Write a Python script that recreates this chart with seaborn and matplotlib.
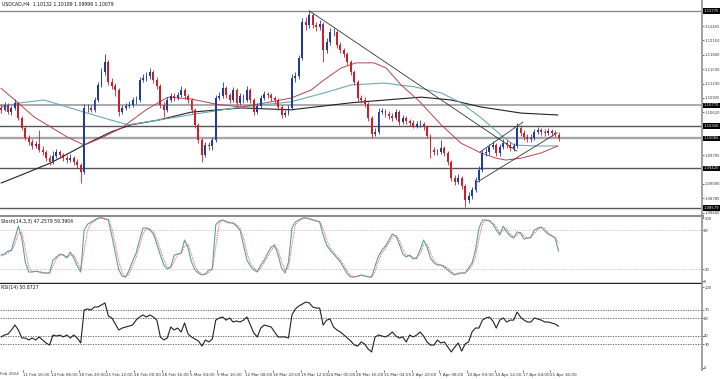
import matplotlib
matplotlib.use("Agg")
import matplotlib.pyplot as plt
import matplotlib.transforms as mtransforms
import numpy as np
import pandas as pd
import seaborn as sns

# ---------------- data (USDCAD H4) ----------------
opens = [1.1071,1.1067,1.1077,1.1062,1.1071,1.1082,1.1050,1.1028,1.1007,1.0998,
 1.0990,1.0994,1.0981,1.0977,1.0964,1.0956,1.0969,1.0977,1.0971,1.0964,
 1.0960,1.0964,1.0956,1.0949,1.0934,1.1071,1.1071,1.1067,1.1088,1.1120,
 1.1148,1.1169,1.1126,1.1118,1.1109,1.1062,1.1071,1.1075,1.1077,1.1088,
 1.1088,1.1131,1.1135,1.1139,1.1148,1.1131,1.1118,1.1077,1.1067,1.1088,
 1.1096,1.1092,1.1099,1.1109,1.1096,1.1088,1.1067,1.1035,1.1003,1.0971,
 1.0992,1.0990,1.1003,1.1092,1.1096,1.1113,1.1099,1.1088,1.1109,1.1082,
 1.1096,1.1088,1.1109,1.1088,1.1062,1.1075,1.1092,1.1101,1.1099,1.1092,
 1.1088,1.1073,1.1056,1.1060,1.1071,1.1135,1.1139,1.1177,1.1254,1.1248,
 1.1269,1.1248,1.1243,1.1250,1.1194,1.1211,1.1233,1.1233,1.1205,1.1194,
 1.1186,1.1169,1.1148,1.1126,1.1092,1.1088,1.1079,1.1050,1.1016,1.1020,
 1.1062,1.1065,1.1058,1.1054,1.1050,1.1062,1.1041,1.1050,1.1043,1.1039,
 1.1033,1.1037,1.1037,1.1030,1.1011,1.0981,1.0977,1.0977,1.0986,1.0975,
 1.0956,1.0922,1.0913,1.0922,1.0905,1.0875,1.0883,1.0896,1.0917,1.0939,
 1.0975,1.0977,1.0988,1.0992,1.0975,1.0988,1.0996,1.0992,1.0986,1.0990,
 1.1028,1.1018,1.1009,1.1005,1.1007,1.1020,1.1024,1.1020,1.1018,1.1022,
 1.1018,1.10132]
highs = [1.1079,1.1084,1.1082,1.1075,1.1090,1.1084,1.1054,1.1033,1.1013,1.1005,
 1.1001,1.1024,1.0990,1.0981,1.0971,1.0979,1.0984,1.0981,1.0975,1.0971,
 1.0973,1.0969,1.0962,1.0954,1.1079,1.1079,1.1077,1.1094,1.1126,1.1156,
 1.1186,1.1173,1.1135,1.1124,1.1113,1.1077,1.1082,1.1086,1.1094,1.1096,
 1.1137,1.1143,1.1148,1.1156,1.1152,1.1137,1.1122,1.1084,1.1094,1.1103,
 1.1103,1.1105,1.1118,1.1113,1.1101,1.1092,1.1071,1.1039,1.1007,1.0998,
 1.0998,1.1009,1.1099,1.1105,1.1126,1.1118,1.1103,1.1116,1.1113,1.1103,
 1.1101,1.1118,1.1113,1.1092,1.1082,1.1099,1.1107,1.1105,1.1103,1.1096,
 1.1092,1.1077,1.1067,1.1077,1.1143,1.1148,1.1184,1.1263,1.1265,1.1278,
 1.1273,1.1254,1.1258,1.1254,1.1220,1.1241,1.1241,1.1237,1.1211,1.1199,
 1.1190,1.1173,1.1152,1.1131,1.1099,1.1094,1.1084,1.1054,1.1028,1.1071,
 1.1071,1.1069,1.1065,1.1060,1.1069,1.1067,1.1056,1.1054,1.1047,1.1045,
 1.1043,1.1045,1.1041,1.1035,1.1016,1.0988,1.0984,1.1003,1.0990,1.0979,
 1.0960,1.0928,1.0930,1.0926,1.0909,1.0892,1.0903,1.0924,1.0947,1.0981,
 1.0986,1.0994,1.1001,1.0996,1.0994,1.1005,1.1003,1.0998,1.0996,1.1039,
 1.1035,1.1024,1.1016,1.1016,1.1026,1.1030,1.1028,1.1026,1.1028,1.1026,
 1.1024,1.10189]
lows = [1.1060,1.1065,1.1058,1.1056,1.1067,1.1045,1.1024,1.1003,1.0992,1.0984,
 1.0986,1.0977,1.0971,1.0958,1.0949,1.0952,1.0964,1.0964,1.0958,1.0954,
 1.0956,1.0949,1.0943,1.0911,1.0930,1.1062,1.1062,1.1062,1.1084,1.1116,
 1.1141,1.1120,1.1111,1.1096,1.1054,1.1058,1.1067,1.1071,1.1073,1.1079,
 1.1084,1.1126,1.1128,1.1133,1.1124,1.1111,1.1071,1.1052,1.1062,1.1084,
 1.1086,1.1088,1.1094,1.1090,1.1082,1.1060,1.1028,1.0996,1.0956,1.0967,
 1.0981,1.0981,1.0998,1.1088,1.1092,1.1092,1.1082,1.1084,1.1075,1.1077,
 1.1082,1.1084,1.1082,1.1056,1.1058,1.1071,1.1088,1.1092,1.1086,1.1082,
 1.1067,1.1050,1.1052,1.1056,1.1067,1.1126,1.1133,1.1173,1.1237,1.1241,
 1.1241,1.1235,1.1237,1.1169,1.1188,1.1205,1.1224,1.1199,1.1188,1.1180,
 1.1162,1.1141,1.1120,1.1086,1.1082,1.1073,1.1043,1.1007,1.1011,1.1016,
 1.1058,1.1052,1.1047,1.1043,1.1045,1.1035,1.1037,1.1037,1.1033,1.1028,
 1.1028,1.1030,1.1024,1.1007,1.0964,1.0971,1.0971,1.0973,1.0969,1.0949,
 1.0915,1.0907,1.0909,1.0898,1.0860,1.0869,1.0877,1.0892,1.0913,1.0934,
 1.0969,1.0971,1.0984,1.0969,1.0969,1.0984,1.0986,1.0979,1.0979,1.0986,
 1.1011,1.1003,1.0998,1.0998,1.1003,1.1016,1.1013,1.1011,1.1013,1.1011,
 1.1009,1.09999]
closes = [1.1067,1.1077,1.1062,1.1071,1.1082,1.1050,1.1028,1.1007,1.0998,1.0990,
 1.0994,1.0981,1.0977,1.0964,1.0956,1.0969,1.0977,1.0971,1.0964,1.0960,
 1.0964,1.0956,1.0949,1.0934,1.1071,1.1071,1.1067,1.1088,1.1120,1.1148,
 1.1169,1.1126,1.1118,1.1109,1.1062,1.1071,1.1075,1.1077,1.1088,1.1088,
 1.1131,1.1135,1.1139,1.1148,1.1131,1.1118,1.1077,1.1067,1.1088,1.1096,
 1.1092,1.1099,1.1109,1.1096,1.1088,1.1067,1.1035,1.1003,1.0971,1.0992,
 1.0990,1.1003,1.1092,1.1096,1.1113,1.1099,1.1088,1.1109,1.1082,1.1096,
 1.1088,1.1109,1.1088,1.1062,1.1075,1.1092,1.1101,1.1099,1.1092,1.1088,
 1.1073,1.1056,1.1060,1.1071,1.1135,1.1139,1.1177,1.1254,1.1248,1.1269,
 1.1248,1.1243,1.1250,1.1194,1.1211,1.1233,1.1233,1.1205,1.1194,1.1186,
 1.1169,1.1148,1.1126,1.1092,1.1088,1.1079,1.1050,1.1016,1.1020,1.1062,
 1.1065,1.1058,1.1054,1.1050,1.1062,1.1041,1.1050,1.1043,1.1039,1.1033,
 1.1037,1.1037,1.1030,1.1011,1.0981,1.0977,1.0977,1.0986,1.0975,1.0956,
 1.0922,1.0913,1.0922,1.0905,1.0875,1.0883,1.0896,1.0917,1.0939,1.0975,
 1.0977,1.0988,1.0992,1.0975,1.0988,1.0996,1.0992,1.0986,1.0990,1.1028,
 1.1018,1.1009,1.1005,1.1007,1.1020,1.1024,1.1020,1.1018,1.1022,1.1018,
 1.1016,1.10079]

stoch_main = [41.5,43.0,47.7,49.0,67.7,86.0,67.7,30.8,15.4,15.4,
 17.0,15.4,13.8,13.8,13.8,33.8,38.5,43.0,41.5,37.0,
 46.0,37.0,24.6,15.4,80.0,89.0,92.0,95.4,98.5,99.0,
 97.0,95.4,70.8,44.6,18.5,9.2,7.7,18.5,32.3,44.6,
 64.6,83.0,83.0,80.0,73.8,58.5,41.5,26.2,20.0,23.0,
 41.5,43.0,44.6,64.6,52.3,30.8,18.5,13.8,10.8,12.3,
 18.5,20.0,88.0,93.8,95.4,92.3,90.8,90.8,86.0,80.0,
 57.0,33.8,24.6,18.5,15.4,26.2,33.8,44.6,53.8,57.0,
 41.5,21.5,13.8,30.8,83.0,92.3,95.4,98.5,98.5,97.0,
 95.4,93.8,92.3,72.3,57.0,49.2,43.0,37.0,30.8,21.5,
 12.3,7.7,7.7,9.2,10.8,9.2,7.7,7.7,24.6,40.0,
 49.2,55.4,64.6,73.8,70.8,58.5,43.0,38.5,41.5,35.4,
 37.0,49.2,64.6,53.8,37.0,29.2,26.2,26.2,23.0,18.5,
 13.8,10.8,13.8,13.8,13.8,21.5,29.2,49.2,83.0,95.4,
 95.4,93.8,89.0,80.0,72.3,86.0,77.0,70.8,67.7,77.0,
 75.4,66.0,67.7,69.0,80.0,83.0,84.6,78.5,73.8,70.8,
 67.7,47.26]
stoch_signal = [40,42,45,48,58,75,77,50,23,16,
 16,16,15,14,14,24,36,41,42,39,
 41,42,31,20,48,80,90,94,97,98.5,
 98,96,83,58,32,14,8,13,25,38,
 55,74,83,82,77,66,50,34,23,22,
 32,42,44,55,58,42,25,16,12,12,
 15,19,54,91,95,94,92,91,88,83,
 68,45,29,22,17,21,30,39,49,55,
 49,32,18,22,57,88,94,97,98.5,98,
 96,95,93,82,65,53,46,40,34,26,
 17,10,8,8.5,10,10,8.5,7.7,16,32,
 45,52,60,69,72,65,51,41,40,38,
 36,43,57,59,45,33,28,26,25,21,
 16,12,12,14,14,18,25,39,66,89,
 95,95,91,85,76,79,82,74,69,72,
 76,71,67,68,75,81,84,82,76,72,
 69,59.39]
rsi = [38.4,40.7,41.9,46.5,52.3,46.5,37.2,37.2,34.9,37.2,
 34.9,38.4,34.9,31.4,29.0,40.7,39.5,40.7,38.4,40.7,
 37.2,40.7,37.2,31.4,69.8,71.0,69.8,73.3,73.3,75.6,
 78.0,62.8,60.5,53.5,46.5,48.8,50.0,51.2,52.3,58.0,
 61.6,64.0,61.6,64.0,61.6,58.0,38.4,34.9,37.2,50.0,
 46.5,48.8,44.2,54.7,41.9,38.4,36.0,33.7,27.9,34.9,
 32.6,36.0,58.0,60.5,61.6,58.0,60.5,55.8,57.0,55.8,
 58.0,61.6,52.3,43.0,38.4,48.8,52.3,51.2,50.0,44.2,
 38.4,38.4,38.4,37.2,64.0,71.0,74.4,76.7,79.0,78.0,
 73.3,72.0,72.0,52.3,58.0,59.3,50.0,46.5,44.2,40.7,
 37.2,33.7,29.0,27.9,32.6,30.2,24.4,21.0,38.4,40.7,
 39.5,38.4,40.7,44.2,39.5,37.2,38.4,32.6,40.7,38.4,
 40.7,44.2,39.5,32.6,29.0,29.0,34.9,31.4,32.6,26.7,
 21.0,26.7,31.4,22.0,30.2,32.6,44.2,48.8,48.8,58.0,
 60.5,61.6,57.0,48.8,58.0,60.5,55.8,58.0,58.0,67.4,
 61.6,58.0,55.8,55.8,60.5,59.3,58.0,55.8,55.8,54.7,
 53.5,50.87]

# moving averages, read at a few bars
ma_red_bar = [0,4.9,9.5,14.4,19.1,24.0,28.9,34.7,41.9,48.2,54.9,62.1,69.3,76.5,83.7,
              89.5,93.3,98.2,102.5,107.7,111.2,115.5,120.4,127.1,132.8,138.6,142.9,145.8,150.2,155.9,160.8]
ma_red = [1.1113,1.1082,1.1052,1.1030,1.1009,1.0992,1.1007,1.1028,1.1067,1.1094,1.1090,1.1079,1.1073,1.1082,1.1092,
          1.1109,1.1131,1.1156,1.1167,1.1167,1.1156,1.1120,1.1088,1.1035,1.0996,1.0975,1.0964,1.0960,1.0964,1.0975,1.0990]
ma_teal_bar = [0,5.8,12.4,24.0,31.8,36.7,45.3,57.8,69.3,83.7,93.3,101.1,110.6,119.3,127.1,132.8,138.6,144.4,148.1,154.5,160.8]
ma_teal = [1.1073,1.1082,1.1088,1.1062,1.1045,1.1035,1.1045,1.1060,1.1073,1.1084,1.1103,1.1120,1.1124,1.1116,1.1103,
           1.1082,1.1050,1.1013,1.0992,1.0990,1.0990]
ma_black_bar = [0,5.8,14.4,24.0,31.8,37.5,45.3,54.9,69.3,83.7,101.1,121.3,129.9,138.6,150.2,160.8]
ma_black = [1.0911,1.0928,1.0954,1.0992,1.1020,1.1035,1.1045,1.1062,1.1071,1.1067,1.1082,1.1094,1.1088,1.1073,1.1060,1.1056]

# drawn objects
trend_down_bar = [89, 149]
trend_down_price = [1.1278, 1.0979]
channel_up_bar = [138.3, 150.7]
channel_up_price = [1.0977, 1.1041]
channel_low_bar = [137.5, 160.6]
channel_low_price = [1.0913, 1.1018]

level_prices = [1.12775, 1.10770, 1.10326, 1.10066, 1.09420, 1.08579]
level_labels = ["1.12775", "1.10770", "1.10326", "1.10066", "1.09420", "1.08579"]
price_ticks = [1.12455, 1.12150, 1.11840, 1.11530, 1.11230, 1.10925, 1.10620, 1.09705, 1.09090, 1.08785, 1.08480]
price_tick_labels = ["1.12455", "1.12150", "1.11840", "1.11530", "1.11230", "1.10925", "1.10620",
                     "1.09705", "1.09090", "1.08785", "1.08480"]
time_labels = ["11 Feb 16:00", "14 Feb 08:00", "18 Feb 20:00", "21 Feb 12:00", "26 Feb 00:00",
               "28 Feb 16:00", "5 Mar 04:00", "9 Mar 16:00", "12 Mar 08:00", "16 Mar 20:00",
               "19 Mar 12:00", "24 Mar 00:00", "26 Mar 16:00", "31 Mar 04:00", "2 Apr 20:00",
               "7 Apr 08:00", "10 Apr 00:00", "14 Apr 12:00", "17 Apr 04:00", "21 Apr 16:00"]
first_label = "Feb 2014"
header = "USDCAD,H4  1.10132 1.10189 1.09999 1.10079"
stoch_title = "Stoch(14,3,3) 47.2579 59.3904"
rsi_title = "RSI(14) 50.8727"
stoch_levels = [80, 20]
rsi_levels = [70, 60, 40, 30]

# ---------------- drawing ----------------
sns.set_theme(style="white")
plt.rcParams["font.family"] = ["Liberation Sans Narrow", "DejaVu Sans"]

UP = "#1f3c9a"
DOWN = "#cc1f2a"
W, H = 720, 379
FS = 3.3     # titles
FSY = 2.7    # right-hand axis labels
FSX = 3.0    # time labels

fig = plt.figure(figsize=(7.2, 3.79), dpi=100)
fig.patch.set_facecolor("white")
axw = 702 / W
ax = fig.add_axes([0, 1 - 216 / H, axw, 215 / H])
axs = fig.add_axes([0, 1 - 283 / H, axw, 66 / H])
axr = fig.add_axes([0, 1 - 370 / H, axw, 86 / H])
XL = (-0.3, 202.4)

n = len(closes)
x = np.arange(n)
o = np.array(opens); c = np.array(closes); h = np.array(highs); l = np.array(lows)
col = np.where(c >= o, UP, DOWN)

# horizontal levels
lvl_style = {1.12775: ("#8a8a8a", 1.0), 1.10770: ("#9c9c9c", 1.2), 1.10326: ("#555555", 1.0),
             1.10066: ("#a6a6a6", 1.7), 1.09420: ("#555555", 1.0), 1.08579: ("#555555", 1.0)}
for lv in level_prices:
    cc, lw = lvl_style[lv]
    ax.axhline(lv, color=cc, lw=lw, zorder=1)

# moving averages
sns.lineplot(x=ma_black_bar, y=ma_black, ax=ax, color="#222222", linewidth=0.8, sort=False, zorder=2)
sns.lineplot(x=ma_teal_bar, y=ma_teal, ax=ax, color="#6aaab8", linewidth=0.8, sort=False, zorder=2)
sns.lineplot(x=ma_red_bar, y=ma_red, ax=ax, color="#b8434c", linewidth=0.7, sort=False, zorder=2)

# trend lines
for bx, py in [(trend_down_bar, trend_down_price), (channel_up_bar, channel_up_price),
               (channel_low_bar, channel_low_price)]:
    ax.plot(bx, py, color="#333333", lw=0.6, zorder=2)

# candles
ax.vlines(x, l, h, colors=col, linewidth=0.6, zorder=3)
ax.bar(x, np.maximum(np.abs(c - o), 0.00005), bottom=np.minimum(o, c), width=0.55,
       color=col, linewidth=0, zorder=4)

ax.set_xlim(*XL)
ax.set_ylim(1.08408, 1.12988)

# stochastic
for lv in stoch_levels:
    axs.axhline(lv, color="#b0b0b0", lw=0.6, ls=(0, (1, 1.5)))
sns.lineplot(x=x, y=stoch_main, ax=axs, color="#5f9ea0", linewidth=0.8)
sns.lineplot(x=x, y=stoch_signal, ax=axs, color="#e05a5a", linewidth=0.7, linestyle=(0, (1, 1)))
axs.set_xlim(*XL)
axs.set_ylim(-1.5, 100)

# RSI
for lv in rsi_levels:
    axr.axhline(lv, color="#555555", lw=0.6, ls=(0, (1.5, 1.5)))
sns.lineplot(x=x, y=rsi, ax=axr, color="#222222", linewidth=0.8)
axr.set_xlim(*XL)
axr.set_ylim(0, 100)

for a in (ax, axs, axr):
    a.set_facecolor("white")
    a.set_xlabel("")
    a.set_ylabel("")
    for s in a.spines.values():
        s.set_visible(False)
    a.spines["right"].set_visible(True)
    a.spines["right"].set_color("#a0a0a0")
    a.spines["right"].set_linewidth(1.4)
    a.yaxis.tick_right()
    a.tick_params(axis="y", right=True, left=False, labelright=True, labelleft=False,
                  labelsize=FSY, length=1.2, width=0.5, pad=0.4, colors="#333333")
ax.spines["bottom"].set_visible(True)
ax.spines["bottom"].set_color("#8c8c8c")
ax.spines["bottom"].set_linewidth(2.2)
axs.spines["bottom"].set_visible(True)
axs.spines["bottom"].set_color("#222222")
axs.spines["bottom"].set_linewidth(1.0)

ax.set_xticks([]); axs.set_xticks([])
ax.set_yticks(price_ticks)
ax.set_yticklabels(price_tick_labels)
axs.set_yticks([98, 80, 20, 1.5]); axs.set_yticklabels(["100", "80", "20", "0"])
axr.set_yticks([96, 70, 60, 40, 30, 2.5]); axr.set_yticklabels(["100", "70", "60", "40", "30", "0"])

# boxed level labels
tr = mtransforms.blended_transform_factory(ax.transAxes, ax.transData)
for lv, txt in zip(level_prices, level_labels):
    ax.text(1.0025, lv, txt, transform=tr, ha="left", va="center", fontsize=FSY, color="white",
            bbox=dict(boxstyle="square,pad=0.15", fc="black", ec="none"), clip_on=False, zorder=6)

# time axis
xt = [6.4 + 8.01 * k for k in range(len(time_labels))]
axr.set_xticks(xt)
axr.set_xticklabels(time_labels)
axr.tick_params(axis="x", bottom=True, labelsize=FSX, length=1.5, width=0.5, pad=1, colors="#333333")
for t in axr.get_xticklabels():
    t.set_ha("left")
fig.text(0.5 / W, 1 - 374 / H, first_label, fontsize=FSX, va="center", ha="left", color="#333333")

# titles
fig.text(2 / W, 1 - 4.5 / H, header, fontsize=FS, va="center", ha="left", color="#111111")
fig.text(1 / W, 1 - 221 / H, stoch_title, fontsize=FS, va="center", ha="left", color="#111111")
fig.text(1 / W, 1 - 288 / H, rsi_title, fontsize=FS, va="center", ha="left", color="#111111")

fig.savefig("out.png", dpi=100, facecolor="white")
